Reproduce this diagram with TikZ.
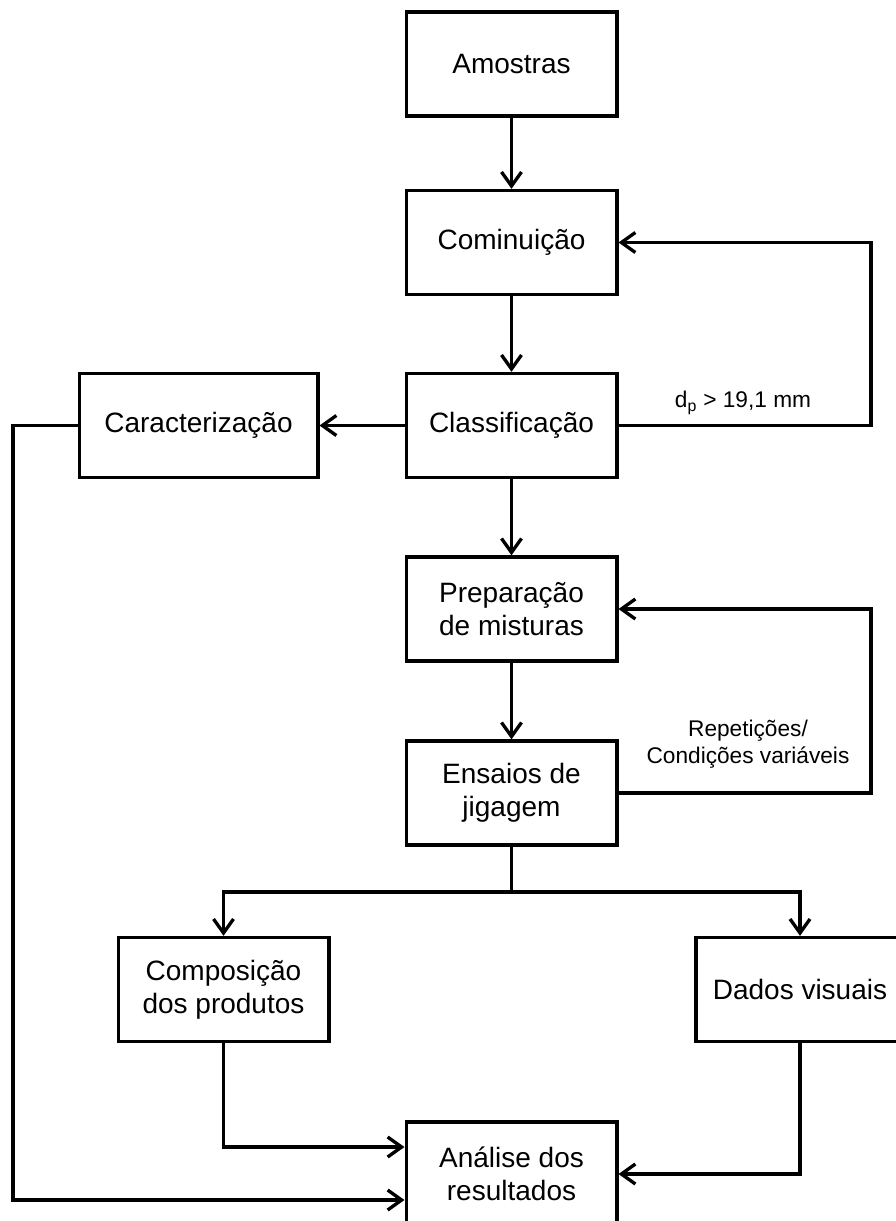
\documentclass[tikz,border=0pt]{standalone}
\usepackage{fontspec}
\setmainfont{Liberation Sans}
\usetikzlibrary{arrows.meta}

\begin{document}
\begin{tikzpicture}[x=0.75pt, y=-0.75pt, line width=2.5pt,
  caixa/.style={draw, inner sep=0pt, minimum width=158pt, minimum height=78pt,
    align=center, font=\fontsize{21}{24.5}\selectfont},
  rotulo/.style={align=center, font=\fontsize{17}{20}\selectfont},
  seta/.style={-{Straight Barb[length=10.5pt,width=15pt]}}]
	% Keep the page the size of the figure
	\useasboundingbox (0,0) rectangle (896,1221);

	% Position of the vertical return lines
	\def\xlaco{871}
	\def\xesq{13}

	% Boxes of the main column
	\node[caixa] (amostras) at (511.5,64) {Amostras};
	\node[caixa] (cominuicao) at (511.5,242.5) {Cominuição};
	\node[caixa] (classificacao) at (511.5,425.5) {Classificação};
	\node[caixa] (preparacao) at (511.5,609) {Preparação\\de misturas};
	\node[caixa] (ensaios) at (511.5,793) {Ensaios de\\jigagem};
	\node[caixa] (analise) at (511.5,1174) {Análise dos\\resultados};

	% Side boxes
	\node[caixa, minimum width=179pt] (caracterizacao) at (198.5,425.5) {Caracterização};
	\node[caixa] (composicao) at (223.5,989.5) {Composição\\dos produtos};
	\node[caixa, minimum width=156pt] (dados) at (800,989.5) {Dados visuais};

	\coordinate (ramo) at (511.5,892);

	% Main flow
	\draw[seta] (amostras) -- (cominuicao);
	\draw[seta] (cominuicao) -- (classificacao);
	\draw[seta] (classificacao) -- (caracterizacao);
	\draw[seta] (classificacao) -- (preparacao);
	\draw[seta] (preparacao) -- (ensaios);

	% Return loops
	\draw[seta] (classificacao.east) -- (\xlaco,425.5) |- (cominuicao.east);
	\node[rotulo] (dp) at (743,403) {d\textsubscript{p} > 19,1 mm};
	\draw[seta] (ensaios.east) -- (\xlaco,793) |- (preparacao.east);
	\node[rotulo] (repeticoes) at (748,744) {Repetições/\\Condições variáveis};

	% Split after the jig tests
	\draw (ensaios.south) -- (ramo);
	\draw[seta] (ramo) -| (composicao.north);
	\draw[seta] (ramo) -| (dados.north);

	% Into the analysis
	\draw[seta] (composicao.south) |- ([yshift=20.25pt]analise.west);
	\draw[seta] (dados.south) |- (analise.east);
	\draw[seta] (caracterizacao.west) -- (\xesq,425.5) |- ([yshift=-19.5pt]analise.west);
\end{tikzpicture}
\end{document}
